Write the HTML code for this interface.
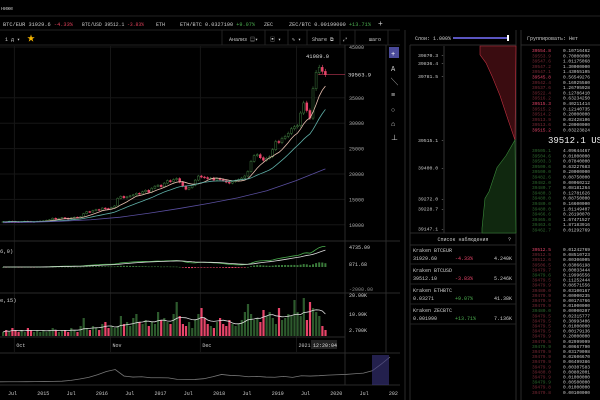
<!DOCTYPE html>
<html><head><meta charset="utf-8"><style>
html,body{margin:0;padding:0;background:#000;width:600px;height:400px;overflow:hidden}
svg{display:block;font-family:"Liberation Mono","Noto Sans CJK JP",monospace}
</style></head><body>
<svg id="s" width="600" height="400" viewBox="0 0 600 400">
<rect width="600" height="400" fill="#000"/>
<g font-size="5" fill="#ccc">
 <text x="1" y="10">ниже</text>
 <line x1="0" y1="16" x2="600" y2="16" stroke="#222"/>
 <line x1="0" y1="30" x2="400" y2="30" stroke="#222"/>
 <g>
  <text x="3" y="26" textLength="70" lengthAdjust="spacingAndGlyphs">BTC/EUR 31929.6 <tspan fill="#e0405a">-4.33%</tspan></text>
  <text x="82" y="26" textLength="62" lengthAdjust="spacingAndGlyphs">BTC/USD 39512.1 <tspan fill="#e0405a">-3.83%</tspan></text>
  <text x="156" y="26">ETH</text>
  <text x="180" y="26" textLength="75" lengthAdjust="spacingAndGlyphs">ETH/BTC 0.0327100 <tspan fill="#4caf50">+9.07%</tspan></text>
  <text x="264" y="26">ZEC</text>
  <text x="289" y="26" textLength="82" lengthAdjust="spacingAndGlyphs">ZEC/BTC 0.00199000 <tspan fill="#4caf50">+13.71%</tspan></text>
  <text x="378" y="26" font-size="8">+</text>
 </g>
 <line x1="0" y1="45" x2="400" y2="45" stroke="#222"/>
 <text x="5" y="41">1 д ▾</text>
 <text x="27" y="41" fill="#f5b400" font-size="8">★</text>
 <text x="229" y="41">Анализ ▤▾</text>
 <text x="270" y="41">▣ ▾</text>
 <text x="292" y="41">✎ ▾</text>
 <text x="312" y="41">Share ⧉</text>
 <text x="343" y="41">⤢</text>
 <text x="369" y="41">шаго</text>
 <g stroke="#222"><line x1="222" y1="30" x2="222" y2="45"/><line x1="265" y1="30" x2="265" y2="45"/><line x1="288" y1="30" x2="288" y2="45"/><line x1="307" y1="30" x2="307" y2="45"/><line x1="340" y1="30" x2="340" y2="45"/><line x1="355" y1="30" x2="355" y2="45"/><line x1="388" y1="30" x2="388" y2="45"/></g>
</g>
<g id="grid" stroke="#161616"></g>
<g id="main"></g>
<g id="macd"></g>
<g id="vol"></g>
<g id="nav"></g>
<g id="tools" font-size="7" fill="#ccc">
 <rect x="389" y="47" width="10" height="11" fill="#4a4a9a"/>
 <text x="391" y="56" fill="#fff">+</text>
 <text x="391" y="71">A</text>
 <text x="391" y="84">╲</text>
 <text x="391" y="97">≡</text>
 <text x="391" y="112">○</text>
 <text x="391" y="126">⌂</text>
 <text x="391" y="140">⊥</text>
</g>
<g id="right" font-size="5"></g>
</svg>
<script>
// ---- data ----
const closes=[10600,10550,10700,10650,10600,10500,10600,10700,10650,10550,10600,10700,10750,
10800,10900,11000,11300,11200,11250,11400,11300,11200,11350,11500,11400,11600,
12200,12600,12500,12800,13000,12900,13300,13200,13100,13400,
13700,15200,15600,15300,15500,15700,
15900,16200,16100,16500,16800,16400,17200,
17600,17800,17500,18200,18700,18500,
18900,19100,18400,17600,17000,17300,17800,
18800,19600,19400,
19300,19100,19200,18800,19100,18900,18700,18400,18200,18500,18700,
18900,19200,19600,20500,22500,23600,23800,
23200,22700,23100,23400,24800,26400,26200,27000,
27400,28000,28900,29300,29500,
32000,34000,32500,31000,36800,40000,41000,40200,39560];
const volumes=[2,3,2,4,3,2,3,2,4,3,2,3,2,
3,2,3,4,3,2,3,3,2,4,3,2,5,
9,4,3,5,4,3,6,7,4,5,
4,5,10,6,7,5,
9,11,7,6,8,5,7,
6,12,8,9,7,6,
11,17,10,6,5,7,4,
8,11,14,
9,6,5,4,7,9,6,5,8,6,5,
6,8,12,16,11,8,9,
7,13,10,12,9,6,14,8,
9,11,10,18,12,
10,19,8,17,14,12,10,5,3];
const purple=[10400,10500,10700,11000,11500,12300,13200,14200,15300,16700,18700,21000];
const priceTicks=[45000,35000,30000,25000,20000,15000,10000];
const months=["Oct","Nov","Dec","2021"];
const monthIdx=[4,35,64,95];
const navPrice=[300,350,420,500,600,700,900,1200,2500,4500,7000,11000,16000,19000,9000,7500,8000,6500,6500,6300,4000,3800,3900,5000,8000,11500,10000,9500,8000,8500,7500,7200,8500,7000,9500,9000,9600,10500,11000,11500,12500,13500,17000,27000,38000];
const navYears=["Jul","2015","Jul","2016","Jul","2017","Jul","2018","Jul","2019","Jul","2020","Jul","202"];
const asks=["39554.8","39553.9","39547.6","39547.2","39547.1","39545.8","39542.4","39537.6","39522.4","39516.2","39515.3","39515.2","39514.2","39513.9","39513.6","39515.2"];
const askAmt=["0.10716462","0.70000000","1.01175068","1.30000000","1.43055105","0.56549276","0.16925580","1.26795928","0.12786410","0.63234250","0.40211414","0.12140735","0.20000000","0.02428106","0.20000000","0.03223824"];
const bids=["39505.1","39504.6","39503.3","39500.6","39500.0","39482.6","39482.0","39480.7","39480.3","39480.0","39480.0","39480.0","39466.6","39465.0","39463.6","39462.7"];
const bidAmt=["4.09644467","0.01000000","0.07840000","0.63227683","0.20000000","0.08750000","0.00060212","0.08181264","0.12781626","0.08750000","0.16600000","1.01149407","0.26190070","1.67471527","1.87183916","0.01292769"];
const depthAskP=[39870.3,39836.4,39781.5,39700,39600,39515.1];
const depthAskX=[480,486,492,500,508,515];
const depthBidP=[39515.1,39450,39400,39300,39272,39147.1];
const depthBidX=[515,506,497,489,485,482];
const depthTicks=[39870.3,39836.4,39781.5,39515.1,39400.0,39272.0,39228.7,39147.1];
const watch=[["Kraken BTCEUR","31929.60","-4.33%","4.240K"],["Kraken BTCUSD","39512.10","-3.83%","5.246K"],["Kraken ETHBTC","0.03271","+9.07%","41.38K"],["Kraken ZECBTC","0.001990","+13.71%","7.136K"]];
const lowerBook=["39512.5","39512.5","39512.6","39506.5","39479.7","39479.6","39479.5","39479.9","39480.0","39479.9","39479.9","39479.9","39480.0","39479.5","39479.5","39479.5","39479.5","39479.9","39479.5","39479.9","39479.9","39479.9","39479.9","39479.9","39480.0","39479.9","39479.9","39479.8","39479.8"];
const lowerAmt=["0.01242769","0.08510723","0.00306005","0.03066198","0.00033444","0.19996556","0.11252444","0.08571556","0.03100167","0.00000235","0.00174766","0.01000000","0.00000207","0.02315777","0.30993406","0.01000000","0.00179136","0.20000000","0.02999999","0.00667790","0.03179098","0.02606670","0.06499386","0.00307583","0.00802001","0.01000000","0.00500000","0.01000000","0.00100000"];
// ---- helpers ----
const NS="http://www.w3.org/2000/svg";
function mk(p,t,a){const e=document.createElementNS(NS,t);for(const k in a)e.setAttribute(k,a[k]);p.appendChild(e);return e;}
const G=id=>document.getElementById(id);
const X=i=>2+i*3.1;
const Y=p=>47+(45000-p)/5000*25.4;
const up="#3f7a3f",dn="#e8456a";
const grid=G('grid');
monthIdx.forEach(i=>{const l=mk(grid,'line',{x1:X(i),y1:46,x2:X(i),y2:352});});
priceTicks.forEach(p=>{const l=mk(grid,'line',{x1:0,y1:Y(p),x2:345,y2:Y(p)});});
[[0,241,400,241],[0,293,400,293],[0,337,345,337],[0,353,400,353],[0,385,400,385],[345,45,345,385],[386,45,386,353]].forEach(a=>mk(grid,'line',{x1:a[0],y1:a[1],x2:a[2],y2:a[3],stroke:'#2a2a2a'}));
const main=G('main');
closes.forEach((c,i)=>{const o=i?closes[i-1]:c;const col=c>=o?up:dn;
 const hi=Math.max(o,c)*1.012,lo=Math.min(o,c)*0.988;
 const w=mk(main,'line',{x1:X(i)+1,x2:X(i)+1,y1:Y(hi),y2:Y(lo),stroke:col,'stroke-width':0.6});
 
 const r=mk(main,'rect',{x:X(i),y:Y(Math.max(o,c)),width:2,height:Math.max(0.8,Math.abs(Y(o)-Y(c))),fill:col===up?'#000':col,stroke:col,'stroke-width':0.5});
 });
function sma(n){return closes.map((c,i)=>{const s=closes.slice(Math.max(0,i-n+1),i+1);return s.reduce((a,b)=>a+b,0)/s.length;});}
function line(par,pts,col,name){const e=mk(par,'polyline',{points:pts.map(p=>p.join(',')).join(' '),fill:'none',stroke:col,'stroke-width':0.8});return e;}
line(main,sma(7).map((v,i)=>[X(i)+1,Y(v)]),'#e8c0b0','ma-fast');
line(main,sma(16).map((v,i)=>[X(i)+1,Y(v)]),'#5fb0a8','ma-slow');
line(main,purple.map((v,i)=>[X(i*(closes.length-1)/(purple.length-1))+1,Y(v)]),'#5a4fa0','ma-long');
const last=closes[closes.length-1];
mk(main,'line',{x1:X(closes.length-3),x2:345,y1:Y(last),y2:Y(last),stroke:dn,'stroke-width':0.6});
const tx=(p,x,y,s,f,name,anch)=>{const t=mk(p,'text',{x:x,y:y,'font-size':s,fill:f});if(anch)t.setAttribute('text-anchor',anch);t.textContent=name[0];return t;};
tx(main,348,Y(last)+2,5.5,'#ddd',['39563.9','last-price-label']);
tx(main,306,58,5.5,'#ddd',['41989.0','high-label']);
priceTicks.forEach(p=>tx(main,349,Y(p)+2,5,'#aaa',[String(p),'price-tick']));
const macd=G('macd');
function ema(n){const k=2/(n+1);let e=closes[0];return closes.map(c=>e=c*k+e*(1-k));}
const e12=ema(12),e26=ema(26),m=e12.map((v,i)=>v-e26[i]);
const sig=(()=>{const k=0.2;let e=m[0];return m.map(v=>e=v*k+e*(1-k));})();
const MY=v=>267-v/227;
m.forEach((v,i)=>{const h=v-sig[i];const r=mk(macd,'rect',{x:X(i),y:Math.min(MY(0),MY(h)),width:2,height:Math.max(0.6,Math.abs(MY(h)-MY(0))),fill:h>=0?'#3a7a3a':dn});});
line(macd,m.map((v,i)=>[X(i)+1,MY(v)]),'#4caf50','macd-line');
line(macd,sig.map((v,i)=>[X(i)+1,MY(v)]),'#ddd','signal-line');
tx(macd,0,253,5.5,'#ccc',['6,9)','macd-title']);
tx(macd,349,249,5,'#ccc',['4735.09','macd-tick']);tx(macd,349,266,5,'#ccc',['871.68','macd-tick']);tx(macd,349,291,5,'#888',['-2000.00','macd-tick']);
const vol=G('vol');const VY=v=>336-v/20*40;
volumes.forEach((v,i)=>{const o=i?closes[i-1]:closes[i];const r=mk(vol,'rect',{x:X(i),y:VY(v),width:2.2,height:336-VY(v),fill:closes[i]>=o?'#2d5a2d':dn});});
const vma=volumes.map((v,i)=>{const s=volumes.slice(Math.max(0,i-9),i+1);return s.reduce((a,b)=>a+b,0)/s.length;});
line(vol,vma.map((v,i)=>[X(i)+1,VY(v)]),'#ddd','volume-ma');
tx(vol,0,302,5.5,'#ccc',['e,15)','volume-title']);
tx(vol,349,297,5,'#ccc',['20.00K','volume-tick']);tx(vol,349,316,5,'#ccc',['10.99K','volume-tick']);tx(vol,349,332,5,'#ccc',['2.700K','volume-tick']);
months.forEach((mo,k)=>tx(vol,X(monthIdx[k])+2,347,5,'#ccc',[mo,'time-tick']));
mk(vol,'rect',{x:311,y:340,width:26,height:9,fill:'#222'});
tx(vol,313,347,5,'#ddd',['12:20:04','current-time']);
const nav=G('nav');const NX=i=>i*390/(navPrice.length-1),NYv=v=>382-v/38000*25;
line(nav,navPrice.map((v,i)=>[NX(i),NYv(v)]),'#777','navigator-line');
const hl=mk(nav,'rect',{x:372,y:355,width:17,height:30,fill:'#3a3580',opacity:0.6});
navYears.forEach((yv,k)=>tx(nav,8+k*29.3,395,5,'#ccc',[yv,'year-tick']));
const R=G('right');
[[405,30,405,400],[410,45,410,400],[516,30,516,400],[521,30,521,400],[410,45,516,45],[521,45,600,45],[410,233,516,233],[410,245,516,245]].forEach(a=>mk(R,'line',{x1:a[0],y1:a[1],x2:a[2],y2:a[3],stroke:'#2a2a2a'}));
tx(R,415,40,5,'#ccc',['Слои: 1.000%','depth-layers-label']);
const sl=mk(R,'rect',{x:453,y:37,width:55,height:2,fill:'#5a55c0'});
mk(R,'rect',{x:507,y:35,width:2,height:6,fill:'#fff'});
tx(R,527,40,5,'#ccc',['Группировать: Нет','grouping-select']);
const DY=p=>140+(39515.1-p)*0.24;
const ap=[[480,46]].concat(depthAskP.map((p,i)=>[depthAskX[i],DY(p)]));
const askPoly=mk(R,'polygon',{points:'516,46 '+ap.map(p=>p.join(',')).join(' '),fill:'#3a0c10',stroke:'#c03040','stroke-width':0.6});
const bp=depthBidP.map((p,i)=>[depthBidX[i],DY(p)]).concat([[482,233]]);
const bidPoly=mk(R,'polygon',{points:'516,233 '+bp.map(p=>p.join(',')).join(' '),fill:'#10280f',stroke:'#3a8a3a','stroke-width':0.6});
mk(R,'line',{x1:444,y1:46,x2:444,y2:233,stroke:'#333'});
depthTicks.forEach(p=>tx(R,418,DY(p)+2,4.8,'#ccc',[p.toFixed(1)+' -','depth-tick']));
tx(R,463,241,5,'#ccc',['Список наблюдения','watchlist-title'],'middle');tx(R,508,241,5,'#ccc',['?','watchlist-help']);
watch.forEach((w,k)=>{const y=252+k*20;tx(R,413,y,5,'#ccc',[w[0],'watch-symbol']);tx(R,413,y+8,5,'#ccc',[w[1],'watch-price']);tx(R,455,y+8,5,w[2][0]=='-'?dn:'#4caf50',[w[2],'watch-change']);tx(R,512,y+8,5,'#ccc',[w[3],'watch-volume'],'end');mk(R,'line',{x1:410,y1:y+12,x2:516,y2:y+12,stroke:'#222'});});
asks.forEach((p,k)=>{const y=52+k*5.3;tx(R,532,y,4.5,k%5==0?dn:'#7a2a36',[p,'ask-price']);tx(R,563,y,4.5,'#ccc',[askAmt[k],'ask-amount']);});
tx(R,548,143,9,'#eee',['39512.1 USD','spread-price']);
bids.forEach((p,k)=>{const y=152+k*5.3;tx(R,532,y,4.5,'#2f6a2f',[p,'bid-price']);tx(R,563,y,4.5,'#ccc',[bidAmt[k],'bid-amount']);});
lowerBook.forEach((p,k)=>{const y=251+k*5.1;tx(R,532,y,4.5,k==0?dn:(k%7==5?'#2f6a2f':'#7a2a36'),[p,'trade-price']);tx(R,563,y,4.5,'#ccc',[lowerAmt[k],'trade-amount']);});
</script>
</body></html>
